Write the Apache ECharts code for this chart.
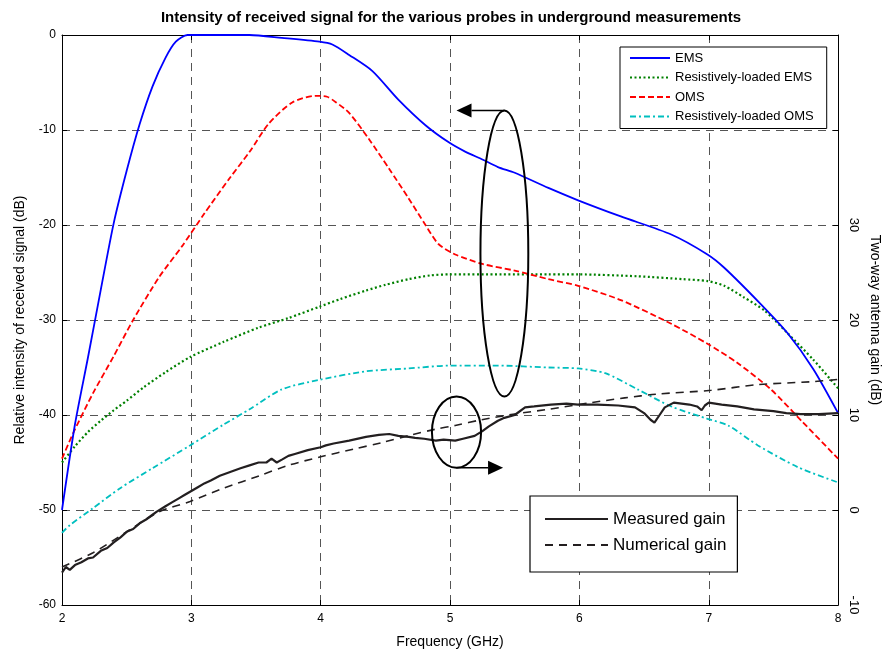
<!DOCTYPE html>
<html>
<head>
<meta charset="utf-8">
<script src="https://cdn.jsdelivr.net/npm/echarts@6/dist/echarts.min.js"></script>
<style>html,body{margin:0;padding:0;background:#fff}#c{width:890px;height:654px}</style>
</head>
<body>
<div id="c"></div>
<script>
// ---- data (frequency GHz, value) ----
const emsData = [[2.0,-50],[2.1,-41],[2.2,-34],[2.3,-26.8],[2.4,-19.8],[2.5,-14.3],[2.6,-9.4],[2.7,-5.4],[2.8,-2.4],[2.88,-0.7],[2.97,0],[3.2,0],[3.45,0],[3.7,-0.3],[3.99,-0.7],[4.09,-1.0],[4.22,-2.1],[4.4,-3.8],[4.6,-6.8],[4.81,-9.5],[4.99,-11.3],[5.12,-12.3],[5.25,-13.1],[5.37,-13.9],[5.5,-14.5],[5.76,-16.1],[5.99,-17.4],[6.32,-19.1],[6.71,-21.0],[6.99,-23.1],[7.12,-24.5],[7.4,-28.3],[7.61,-31.4],[7.81,-35.2],[8.0,-39.8]];
const rlEmsData = [[2.0,-45.0],[2.1,-43.3],[2.2,-41.8],[2.3,-40.6],[2.4,-39.5],[2.5,-38.5],[2.63,-37.1],[2.8,-35.5],[2.99,-33.9],[3.25,-32.3],[3.52,-30.8],[3.75,-29.8],[3.99,-28.6],[4.15,-27.8],[4.35,-26.9],[4.5,-26.3],[4.68,-25.7],[4.85,-25.3],[4.99,-25.2],[5.4,-25.2],[5.76,-25.2],[5.99,-25.2],[6.45,-25.4],[6.8,-25.7],[6.99,-25.9],[7.12,-26.4],[7.27,-27.6],[7.43,-29.0],[7.61,-31.4],[7.81,-34.2],[8.0,-37.2]];
const omsData = [[2.0,-44.6],[2.09,-41.8],[2.24,-37.7],[2.4,-33.8],[2.55,-30.0],[2.75,-25.5],[2.93,-22.2],[3.1,-18.8],[3.3,-15.0],[3.45,-12.3],[3.6,-9.3],[3.78,-7.1],[3.96,-6.4],[4.05,-6.5],[4.12,-7.1],[4.22,-8.2],[4.37,-10.9],[4.53,-14.1],[4.68,-17.2],[4.81,-20.0],[4.91,-22.0],[5.04,-23.1],[5.25,-24.1],[5.5,-24.8],[5.76,-25.7],[5.99,-26.4],[6.32,-27.9],[6.71,-30.4],[6.99,-32.5],[7.22,-34.5],[7.48,-37.3],[7.73,-40.8],[8.0,-44.6]];
const rlOmsData = [[2.0,-52.4],[2.06,-51.6],[2.24,-49.8],[2.45,-47.7],[2.7,-45.6],[2.99,-43.2],[3.25,-41.0],[3.45,-39.4],[3.7,-37.3],[3.99,-36.3],[4.35,-35.4],[4.68,-35.1],[4.99,-34.8],[5.37,-34.8],[5.76,-35.0],[5.99,-35.1],[6.2,-35.6],[6.45,-37.3],[6.71,-39.1],[6.99,-40.4],[7.15,-41.1],[7.38,-43.2],[7.69,-45.5],[8.0,-47.1]];
const measuredGain = [[2.0,-6.6],[2.03,-6.0],[2.06,-6.3],[2.1,-5.8],[2.15,-5.5],[2.2,-5.1],[2.24,-5.0],[2.3,-4.3],[2.35,-4.0],[2.4,-3.4],[2.45,-2.9],[2.5,-2.3],[2.55,-2.0],[2.6,-1.4],[2.65,-1.0],[2.7,-0.5],[2.73,-0.2],[2.8,0.4],[2.85,0.8],[2.9,1.2],[2.95,1.6],[3.0,2.0],[3.05,2.4],[3.1,2.8],[3.15,3.1],[3.22,3.6],[3.3,4.0],[3.38,4.4],[3.45,4.7],[3.52,5.0],[3.58,5.0],[3.62,5.4],[3.66,5.0],[3.7,5.3],[3.75,5.7],[3.8,5.9],[3.9,6.3],[4.0,6.6],[4.04,6.8],[4.1,7.0],[4.22,7.3],[4.35,7.7],[4.45,7.9],[4.53,8.0],[4.6,7.8],[4.68,7.7],[4.73,7.6],[4.8,7.5],[4.89,7.3],[4.95,7.4],[5.04,7.3],[5.1,7.5],[5.19,7.8],[5.25,8.3],[5.3,8.8],[5.37,9.4],[5.42,9.7],[5.5,10.0],[5.58,10.8],[5.65,10.9],[5.78,11.1],[5.9,11.2],[5.99,11.1],[6.14,11.1],[6.3,11.0],[6.43,10.8],[6.5,10.2],[6.55,9.5],[6.58,9.2],[6.62,10.0],[6.66,10.8],[6.73,11.3],[6.85,11.1],[6.91,10.9],[6.945,10.5],[6.97,11.0],[7.0,11.3],[7.1,11.1],[7.22,10.9],[7.35,10.6],[7.5,10.4],[7.6,10.2],[7.71,10.1],[7.85,10.1],[8.0,10.2]];
const numericalGain = [[2.0,-6.0],[2.24,-4.5],[2.5,-2.3],[2.75,-0.2],[2.99,0.9],[3.25,2.3],[3.525,3.6],[3.75,4.7],[4.0,5.6],[4.25,6.4],[4.475,7.1],[4.7,7.9],[4.886,8.5],[5.04,8.9],[5.245,9.5],[5.5,10.1],[5.76,10.6],[6.09,11.3],[6.35,11.8],[6.6,12.2],[7.02,12.6],[7.38,13.2],[7.79,13.5],[8.0,13.75]];
const seriesNames = ['EMS','Resistively-loaded EMS','OMS','Resistively-loaded OMS','Measured gain','Numerical gain'];
const rightTickLabels = ['-10','0','10','20','30'];

const FONT = 'Liberation Sans, Arial, sans-serif';
const gridLine = {show:true, lineStyle:{color:'#555', width:1, type:[8,6]}};
const noSymbol = {color:'rgba(0,0,0,0)', borderColor:'rgba(0,0,0,0)', borderWidth:0};
const chart = echarts.init(document.getElementById('c'), null, {renderer:'canvas'});
chart.setOption({
  animation:false,
  backgroundColor:'#fff',
  textStyle:{fontFamily:FONT},
  grid:{left:62, right:49, top:35, bottom:43, containLabel:false},
  legend:[
    {data:seriesNames.slice(0,4), orient:'vertical', left:620, top:47,
     borderColor:'#000', borderWidth:1, backgroundColor:'#fff',
     padding:[4.5,13,5.5,9], itemWidth:40, itemHeight:10, itemGap:6.5,
     itemStyle:noSymbol,
     textStyle:{fontSize:13, color:'#000', fontFamily:FONT}},
    {data:seriesNames.slice(4), orient:'vertical', left:530, top:496,
     borderColor:'#000', borderWidth:1.2, backgroundColor:'#fff',
     padding:[14.5,11,18.5,14], itemWidth:63, itemHeight:14, itemGap:9,
     itemStyle:noSymbol,
     textStyle:{fontSize:17, color:'#000', fontFamily:FONT}}
  ],
  xAxis:[
    {type:'value', min:2, max:8, interval:1, position:'bottom',
     name:'Frequency (GHz)', nameLocation:'middle', nameGap:30,
     nameTextStyle:{fontSize:14, color:'#000'},
     axisLine:{onZero:false, lineStyle:{color:'#000', width:1}},
     axisTick:{inside:true, length:5, lineStyle:{color:'#000'}},
     axisLabel:{fontSize:12, color:'#000', margin:8},
     splitLine:gridLine},
    {type:'value', min:2, max:8, interval:1, position:'top',
     axisLine:{show:true, onZero:false, lineStyle:{color:'#000', width:1}},
     axisTick:{show:true, inside:true, length:5, lineStyle:{color:'#000'}},
     axisLabel:{show:false}, splitLine:{show:false}}
  ],
  yAxis:[
    {type:'value', min:-60, max:0, interval:10, position:'left',
     name:'Relative intensity of received signal (dB)', nameLocation:'middle', nameGap:35,
     nameTextStyle:{fontSize:14, color:'#000'},
     axisLine:{show:true, onZero:false, lineStyle:{color:'#000', width:1}},
     axisTick:{show:true, inside:true, length:5, lineStyle:{color:'#000'}},
     axisLabel:{fontSize:12, color:'#000', margin:6},
     splitLine:gridLine},
    {type:'value', min:-10, max:50, interval:10, position:'right',
     name:'Two-way antenna gain (dB)', nameLocation:'middle', nameGap:28, nameRotate:-90,
     nameTextStyle:{fontSize:14, color:'#000'},
     axisLine:{show:true, onZero:false, lineStyle:{color:'#000', width:1}},
     axisTick:{show:true, inside:true, length:5, lineStyle:{color:'#000'}},
     axisLabel:{fontSize:13, color:'#000', margin:9, rotate:-90,
       formatter:function(v){ return rightTickLabels.indexOf(String(v))>=0 ? String(v) : ''; }},
     splitLine:{show:false}}
  ],
  series:[
    {name:seriesNames[0], type:'line', data:emsData, symbol:'none', smooth:0.25, z:5,
     lineStyle:{color:'#0000ff', width:1.8, type:'solid'}, itemStyle:{color:'#0000ff'}},
    {name:seriesNames[1], type:'line', data:rlEmsData, symbol:'none', smooth:0.25, z:4,
     lineStyle:{color:'#008000', width:2.2, type:[2,2.5]}, itemStyle:{color:'#008000'}},
    {name:seriesNames[2], type:'line', data:omsData, symbol:'none', smooth:0.25, z:4,
     lineStyle:{color:'#ff0000', width:1.8, type:[6,3]}, itemStyle:{color:'#ff0000'}},
    {name:seriesNames[3], type:'line', data:rlOmsData, symbol:'none', smooth:0.25, z:4,
     lineStyle:{color:'#00bfbf', width:1.8, type:[6,3,2,3]}, itemStyle:{color:'#00bfbf'}},
    {name:seriesNames[4], type:'line', yAxisIndex:1, data:measuredGain, symbol:'none', z:6,
     lineStyle:{color:'#231f20', width:2.2, type:'solid'}, itemStyle:{color:'#000'}},
    {name:seriesNames[5], type:'line', yAxisIndex:1, data:numericalGain, symbol:'none', smooth:0.3, z:6,
     lineStyle:{color:'#231f20', width:1.6, type:[8,6]}, itemStyle:{color:'#000'}}
  ]
});

// annotations anchored in data coordinates
function px(f, v){ return chart.convertToPixel({xAxisIndex:0, yAxisIndex:0}, [f, v]); }
const bigEll = {f:5.42, v:-23.0, rf:0.185, rv:15.05};
const smallEll = {f:5.05, v:-41.8, rf:0.19, rv:3.75};
function ellipseEl(e){
  const c = px(e.f, e.v), r = px(e.f + e.rf, e.v + e.rv);
  return {type:'ellipse', shape:{cx:c[0], cy:c[1], rx:Math.abs(r[0]-c[0]), ry:Math.abs(c[1]-r[1])},
          style:{fill:'none', stroke:'#000', lineWidth:2}, z:20};
}
function arrowEls(from, to){
  const a = px(from[0], from[1]), b = px(to[0], to[1]);
  const dir = Math.sign(b[0]-a[0]);
  const hl = 15, hw = 7;
  return [
    {type:'line', shape:{x1:a[0], y1:a[1], x2:b[0]-dir*hl, y2:b[1]}, style:{stroke:'#000', lineWidth:1.6}, z:20},
    {type:'polygon', shape:{points:[[b[0],b[1]],[b[0]-dir*hl,b[1]-hw],[b[0]-dir*hl,b[1]+hw]]}, style:{fill:'#000'}, z:20}
  ];
}
const bigTop = [bigEll.f, bigEll.v + bigEll.rv];
const smallBot = [smallEll.f, smallEll.v - smallEll.rv];
chart.setOption({graphic:[
  {type:'text', style:{text:'Intensity of received signal for the various probes in underground measurements',
    x:451, y:18, align:'center', verticalAlign:'middle', font:'bold 15px ' + FONT, fill:'#000'}, z:30},
  ellipseEl(bigEll), ellipseEl(smallEll),
  ...arrowEls(bigTop, [5.05, bigTop[1]]),
  ...arrowEls(smallBot, [5.41, smallBot[1]])
]});
</script>
</body>
</html>
